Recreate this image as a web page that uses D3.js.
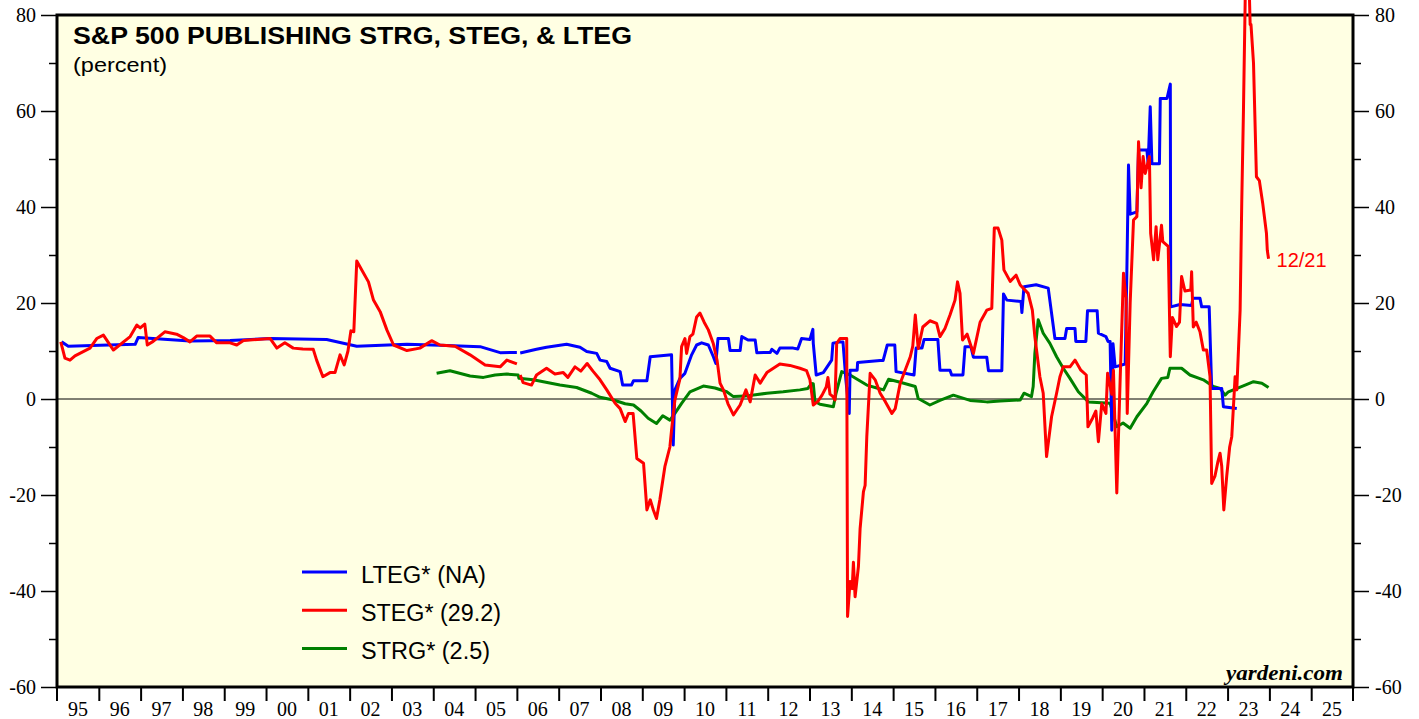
<!DOCTYPE html>
<html><head><meta charset="utf-8">
<script src="https://cdn.jsdelivr.net/npm/d3@7/dist/d3.min.js"></script>
<style>body{margin:0;background:#fff}svg{display:block}</style>
</head><body>
<svg id="c" width="1419" height="719"></svg>
<script>
// ---- data (year as decimal, percent) ----
const yearLabels = ["95","96","97","98","99","00","01","02","03","04","05","06","07","08","09","10","11","12","13","14","15","16","17","18","19","20","21","22","23","24","25"];
const yTickValues = [-60,-40,-20,0,20,40,60,80];
const legendLabels = ["LTEG* (NA)","STEG* (29.2)","STRG* (2.5)"];
const lastLabel = "12/21";

const lteg = [[1995.11,11.9],[1995.27,11.0],[1996.03,11.2],[1996.87,11.4],[1996.94,12.8],[1998.18,12.1],[1999.14,12.2],[2000.10,12.6],[2001.45,12.4],[2002.17,11.0],[2003.37,11.4],[2004.16,11.2],[2005.12,10.9],[2005.60,9.65],[2006.00,9.7],[2006.04,null],
[2006.08,9.6],[2006.47,10.35],[2006.71,10.8],[2007.19,11.4],[2007.51,10.8],[2007.67,9.9],[2007.91,9.5],[2007.99,8.1],[2008.15,7.8],[2008.23,6.4],[2008.47,5.7],[2008.53,2.9],[2008.74,2.9],[2008.79,3.8],[2009.11,3.8],[2009.19,8.8],[2009.70,9.2],[2009.74,-9.6],[2009.78,1.9],[2009.90,4.3],[2010.02,5.35],[2010.18,9.2],[2010.30,11.25],[2010.42,11.7],[2010.58,11.25],[2010.70,8.8],[2010.76,7.4],[2010.81,12.6],[2011.06,12.6],[2011.10,10.1],[2011.34,10.1],[2011.38,13.0],[2011.53,12.3],[2011.70,12.3],[2011.74,9.65],[2012.06,9.7],[2012.10,10.35],[2012.22,9.5],[2012.29,10.6],[2012.61,10.6],[2012.72,10.4],[2012.81,12.6],[2013.01,12.4],[2013.08,14.5],[2013.09,11.6],[2013.16,5.0],[2013.33,5.5],[2013.53,8.1],[2013.56,11.6],[2013.73,11.9],[2013.80,11.9],[2013.87,4.0],[2013.95,-3.0],[2013.97,6.0],[2014.14,6.0],[2014.15,7.6],[2014.69,8.0],[2014.76,8.0],[2014.86,11.25],[2015.04,11.25],[2015.07,5.7],[2015.50,5.0],[2015.55,10.6],[2015.69,10.6],[2015.74,12.4],[2016.07,12.4],[2016.12,6.0],[2016.36,6.0],[2016.40,5.0],[2016.67,5.0],[2016.72,10.9],[2016.86,10.9],[2016.92,8.7],[2017.24,8.7],[2017.28,5.9],[2017.60,5.9],[2017.64,21.9],[2017.72,20.6],[2018.06,20.3],[2018.08,18.0],[2018.13,23.4],[2018.42,23.8],[2018.71,23.1],[2018.87,12.6],[2019.11,12.6],[2019.15,14.7],[2019.35,14.7],[2019.37,12.0],[2019.61,12.0],[2019.65,18.4],[2019.88,18.4],[2019.91,13.7],[2020.09,13.0],[2020.14,12.0],[2020.19,12.0],[2020.23,-6.5],[2020.26,11.5],[2020.31,6.7],[2020.55,7.3],[2020.59,26.2],[2020.63,48.75],[2020.67,38.5],[2020.83,39.0],[2020.87,51.9],[2021.07,51.9],[2021.10,49.0],[2021.15,60.9],[2021.19,49.0],[2021.37,49.0],[2021.39,62.6],[2021.55,62.6],[2021.63,65.6],[2021.64,19.2],[2021.86,19.7],[2022.14,19.5],[2022.17,21.0],[2022.34,21.0],[2022.38,19.2],[2022.56,19.2],[2022.62,2.2],[2022.86,2.2],[2022.90,-1.6],[2023.22,-2.0]];

const steg = [[1995.09,11.9],[1995.19,8.5],[1995.31,8.1],[1995.43,9.0],[1995.79,10.6],[1995.95,12.6],[1996.11,13.3],[1996.35,10.2],[1996.75,13.0],[1996.91,15.4],[1996.99,14.8],[1997.10,15.6],[1997.16,11.25],[1997.30,12.0],[1997.58,14.0],[1997.86,13.5],[1998.02,12.8],[1998.18,11.9],[1998.34,13.1],[1998.66,13.1],[1998.82,11.7],[1999.14,11.7],[1999.30,11.25],[1999.46,12.2],[2000.10,12.6],[2000.26,10.6],[2000.45,11.7],[2000.65,10.6],[2000.88,10.4],[2001.13,10.35],[2001.21,8.1],[2001.36,4.65],[2001.53,5.5],[2001.65,5.5],[2001.77,9.2],[2001.87,7.1],[2001.96,10.0],[2002.03,14.2],[2002.10,14.0],[2002.17,28.75],[2002.25,27.5],[2002.45,24.4],[2002.57,20.6],[2002.73,18.2],[2002.89,14.4],[2003.05,11.25],[2003.37,10.1],[2003.68,10.6],[2003.96,12.15],[2004.16,11.25],[2004.52,11.0],[2004.88,9.2],[2005.24,7.1],[2005.60,6.7],[2005.76,8.1],[2006.00,7.3],[2006.04,null],
[2006.08,5.0],[2006.15,3.4],[2006.35,2.9],[2006.47,5.0],[2006.71,6.4],[2006.91,5.2],[2007.11,5.5],[2007.22,4.5],[2007.39,6.7],[2007.53,5.8],[2007.68,7.4],[2007.82,5.8],[2007.99,4.0],[2008.15,1.9],[2008.35,-0.9],[2008.47,-2.0],[2008.59,-4.7],[2008.67,-3.0],[2008.78,-3.0],[2008.87,-12.4],[2009.03,-13.4],[2009.11,-23.1],[2009.19,-21.0],[2009.26,-23.0],[2009.34,-24.9],[2009.42,-21.0],[2009.49,-17.0],[2009.54,-14.1],[2009.66,-10.0],[2009.70,-6.5],[2009.78,-0.2],[2009.90,4.2],[2009.94,10.9],[2010.02,12.6],[2010.06,9.5],[2010.14,13.0],[2010.21,13.5],[2010.30,17.1],[2010.38,17.9],[2010.48,16.0],[2010.58,14.4],[2010.70,11.5],[2010.79,8.0],[2010.86,3.3],[2010.94,1.9],[2011.05,-1.0],[2011.18,-3.3],[2011.34,-1.25],[2011.48,1.9],[2011.58,-0.6],[2011.70,5.0],[2011.82,3.3],[2011.98,5.5],[2012.29,7.3],[2012.53,7.0],[2012.77,6.4],[2012.93,5.9],[2013.01,4.0],[2013.09,-1.25],[2013.20,-0.5],[2013.30,0.8],[2013.40,2.5],[2013.44,4.5],[2013.49,1.0],[2013.56,0.5],[2013.61,-0.2],[2013.65,11.6],[2013.73,12.6],[2013.89,12.6],[2013.91,-45.3],[2013.97,-38.0],[2014.02,-39.5],[2014.05,-34.0],[2014.09,-41.2],[2014.17,-34.9],[2014.21,-27.0],[2014.29,-19.3],[2014.33,-18.0],[2014.37,-7.85],[2014.45,5.35],[2014.57,4.0],[2014.69,1.2],[2014.81,-0.5],[2014.97,-3.0],[2015.05,-2.0],[2015.17,3.3],[2015.31,6.5],[2015.41,8.8],[2015.47,11.0],[2015.53,17.5],[2015.60,10.5],[2015.71,15.0],[2015.88,16.3],[2016.04,15.75],[2016.12,13.0],[2016.24,14.7],[2016.36,17.5],[2016.48,20.6],[2016.54,24.4],[2016.60,22.0],[2016.66,12.3],[2016.77,13.5],[2016.92,9.5],[2017.08,16.0],[2017.24,18.5],[2017.36,18.9],[2017.42,35.6],[2017.51,35.6],[2017.60,33.1],[2017.65,26.9],[2017.80,24.5],[2017.94,25.8],[2018.04,23.75],[2018.23,22.0],[2018.33,18.5],[2018.39,13.0],[2018.43,10.2],[2018.51,4.65],[2018.59,1.2],[2018.67,-12.0],[2018.79,-3.7],[2018.91,1.2],[2018.99,4.65],[2019.07,6.7],[2019.23,6.7],[2019.35,8.1],[2019.49,6.0],[2019.62,5.0],[2019.66,-5.8],[2019.77,-4.0],[2019.85,-2.5],[2019.91,-8.9],[2019.99,-1.0],[2020.09,-3.0],[2020.13,5.35],[2020.23,1.0],[2020.27,6.0],[2020.35,-19.6],[2020.43,4.0],[2020.51,26.2],[2020.57,21.0],[2020.60,-3.0],[2020.67,20.0],[2020.75,37.3],[2020.83,38.0],[2020.87,53.6],[2020.93,44.0],[2020.98,50.5],[2021.03,47.0],[2021.13,50.5],[2021.16,34.5],[2021.23,29.0],[2021.29,35.9],[2021.33,29.0],[2021.42,36.2],[2021.45,32.8],[2021.58,31.8],[2021.63,8.8],[2021.68,17.0],[2021.78,15.1],[2021.85,16.0],[2021.90,25.5],[2021.98,22.5],[2022.12,22.7],[2022.14,26.5],[2022.18,15.0],[2022.25,16.0],[2022.34,14.0],[2022.42,10.2],[2022.50,10.2],[2022.58,4.65],[2022.62,-17.6],[2022.70,-16.0],[2022.77,-13.0],[2022.82,-11.3],[2022.86,-14.0],[2022.91,-23.1],[2022.98,-16.0],[2023.05,-10.0],[2023.10,-7.85],[2023.18,4.65],[2023.22,1.9],[2023.30,18.5],[2023.34,41.5],[2023.38,60.2],[2023.43,88.0],[2023.51,88.0],[2023.54,78.0],[2023.56,78.0],[2023.62,70.0],[2023.69,46.3],[2023.76,45.5],[2023.84,40.8],[2023.93,34.5],[2023.95,31.0],[2023.98,29.2]];

const strg = [[2004.08,5.35],[2004.40,5.9],[2004.88,4.8],[2005.20,4.5],[2005.48,5.0],[2005.76,5.2],[2006.03,5.0],[2006.05,4.3],[2006.39,4.0],[2007.03,2.9],[2007.43,2.4],[2007.79,1.2],[2007.99,0.35],[2008.31,-0.2],[2008.59,-1.0],[2008.79,-1.25],[2008.97,-2.5],[2009.14,-4.0],[2009.34,-5.1],[2009.49,-3.5],[2009.66,-4.4],[2009.78,-3.0],[2009.94,-0.9],[2010.14,1.5],[2010.46,2.7],[2010.74,2.3],[2011.02,1.5],[2011.18,0.5],[2011.46,0.6],[2011.98,1.2],[2012.37,1.5],[2012.77,1.9],[2012.96,2.2],[2013.05,3.25],[2013.09,3.2],[2013.13,-0.5],[2013.25,-1.1],[2013.57,-1.6],[2013.63,1.0],[2013.77,5.7],[2013.97,5.0],[2014.37,2.9],[2014.61,2.3],[2014.77,1.9],[2014.89,4.1],[2015.17,3.5],[2015.53,2.6],[2015.60,0.1],[2015.88,-1.25],[2016.12,-0.3],[2016.44,0.8],[2016.84,-0.3],[2017.24,-0.6],[2017.56,-0.4],[2018.04,-0.2],[2018.13,1.2],[2018.31,0.5],[2018.35,2.6],[2018.39,9.5],[2018.47,16.5],[2018.59,13.7],[2018.75,11.6],[2018.91,8.8],[2019.07,6.4],[2019.23,4.3],[2019.43,1.5],[2019.67,-0.6],[2020.19,-0.9],[2020.35,-5.8],[2020.50,-5.0],[2020.67,-6.1],[2020.83,-3.7],[2021.07,-0.9],[2021.22,1.5],[2021.42,4.3],[2021.57,4.5],[2021.62,6.4],[2021.90,6.4],[2022.10,5.0],[2022.42,4.0],[2022.66,2.6],[2022.82,2.2],[2022.94,0.8],[2023.02,1.5],[2023.42,2.9],[2023.62,3.6],[2023.82,3.3],[2023.98,2.4]];

// ---- layout ----
const L = 57, R = 1353, T = 15, B = 687;
const svg = d3.select("#c");
const x = d3.scaleLinear().domain([1995, 2026]).range([L, R]);
const y = d3.scaleLinear().domain([-60, 80]).range([B, T]);

svg.append("rect").attr("x", L).attr("y", T).attr("width", R - L).attr("height", B - T).attr("fill", "#ffffe3");

// zero line
svg.append("line").attr("x1", L).attr("x2", R).attr("y1", y(0)).attr("y2", y(0)).attr("stroke", "#000").attr("stroke-width", 1);

// frame
svg.append("rect").attr("x", L).attr("y", T).attr("width", R - L).attr("height", B - T).attr("fill", "none").attr("stroke", "#000").attr("stroke-width", 3);

// left/right axes
const serif = "'Liberation Serif','Times New Roman',serif";
const sans = "'Liberation Sans',Arial,Helvetica,sans-serif";
const leftAxis = d3.axisLeft(y).tickValues(d3.range(-60, 81, 10)).tickSize(0).tickFormat("");
const gl = svg.append("g").attr("transform", `translate(${L - 1},0)`).call(leftAxis);
gl.select(".domain").remove();
gl.selectAll(".tick line").attr("x2", d => d % 20 === 0 ? -15 : -7).attr("stroke", "#000").attr("stroke-width", 1.5);
gl.selectAll(".tick").filter(d => yTickValues.includes(d)).append("text").attr("x", -20).attr("dy", "0.33em").attr("text-anchor", "end").attr("fill", "#000").style("font-family", serif).style("font-size", "20px").text(d => d);

const rightAxis = d3.axisRight(y).tickValues(d3.range(-60, 81, 10)).tickSize(0).tickFormat("");
const gr = svg.append("g").attr("transform", `translate(${R + 1},0)`).call(rightAxis);
gr.select(".domain").remove();
gr.selectAll(".tick line").attr("x2", d => d % 20 === 0 ? 15 : 7).attr("stroke", "#000").attr("stroke-width", 1.5);
gr.selectAll(".tick").filter(d => yTickValues.includes(d)).append("text").attr("x", 21).attr("dy", "0.33em").attr("text-anchor", "start").attr("fill", "#000").style("font-family", serif).style("font-size", "20px").text(d => d);

// bottom axis: year boundaries + centered labels
const years = d3.range(1995, 2026);
const bottomAxis = d3.axisBottom(x).tickValues(d3.range(1996, 2026)).tickSize(13).tickFormat("");
const gb = svg.append("g").attr("transform", `translate(0,${B + 1})`).call(bottomAxis);
gb.select(".domain").remove();
gb.selectAll(".tick line").attr("stroke", "#000").attr("stroke-width", 2);
gb.append("line").attr("x1", L).attr("x2", L).attr("y1", 0).attr("y2", 13).attr("stroke", "#000").attr("stroke-width", 2);
gb.append("line").attr("x1", R).attr("x2", R).attr("y1", 0).attr("y2", 13).attr("stroke", "#000").attr("stroke-width", 2);
gb.selectAll(".ylab").data(years).enter().append("text").attr("class", "ylab")
  .attr("x", d => x(d + 0.5)).attr("y", 28).attr("text-anchor", "middle").attr("fill", "#000")
  .style("font-family", serif).style("font-size", "20px").text((d, i) => yearLabels[i]);

// series
const line = d3.line().defined(d => d[1] !== null).x(d => x(d[0])).y(d => y(d[1]));
const series = [
  {data: strg, color: "#008000"},
  {data: lteg, color: "#0000ff"},
  {data: steg, color: "#ff0000"}
];
series.forEach(s => {
  svg.append("path").datum(s.data).attr("d", line).attr("fill", "none").attr("stroke", s.color)
    .attr("stroke-width", 3).attr("stroke-linejoin", "round");
});

// last value label
svg.append("text").attr("x", x(steg[steg.length - 1][0]) + 8).attr("y", y(steg[steg.length - 1][1]) + 8)
  .attr("fill", "#ff0000").style("font-family", sans).style("font-size", "20px").text(lastLabel);

// title
svg.append("text").attr("x", 73).attr("y", 44).attr("fill", "#000").style("font-family", sans).style("font-weight", "bold").style("font-size", "23px")
  .attr("textLength", 559).attr("lengthAdjust", "spacingAndGlyphs").text("S&P 500 PUBLISHING STRG, STEG, & LTEG");
svg.append("text").attr("x", 73).attr("y", 72).attr("fill", "#000").style("font-family", sans).style("font-size", "20px")
  .attr("textLength", 94).attr("lengthAdjust", "spacingAndGlyphs").text("(percent)");

// legend
const legColors = ["#0000ff", "#ff0000", "#008000"];
const legLens = [125, 140, 129];
legendLabels.forEach((t, i) => {
  const ly = 572 + i * 38.3;
  svg.append("line").attr("x1", 302).attr("x2", 347).attr("y1", ly).attr("y2", ly).attr("stroke", legColors[i]).attr("stroke-width", 3);
  svg.append("text").attr("x", 361).attr("y", ly + 10.5).attr("fill", "#000").style("font-family", sans).style("font-size", "23px")
    .attr("textLength", legLens[i]).attr("lengthAdjust", "spacingAndGlyphs").text(t);
});

// source
svg.append("text").attr("x", 1343).attr("y", 680).attr("text-anchor", "end").attr("fill", "#000")
  .style("font-family", serif).style("font-weight", "bold").style("font-style", "italic").style("font-size", "21px")
  .attr("textLength", 117).attr("lengthAdjust", "spacingAndGlyphs").text("yardeni.com");
</script>
</body></html>
